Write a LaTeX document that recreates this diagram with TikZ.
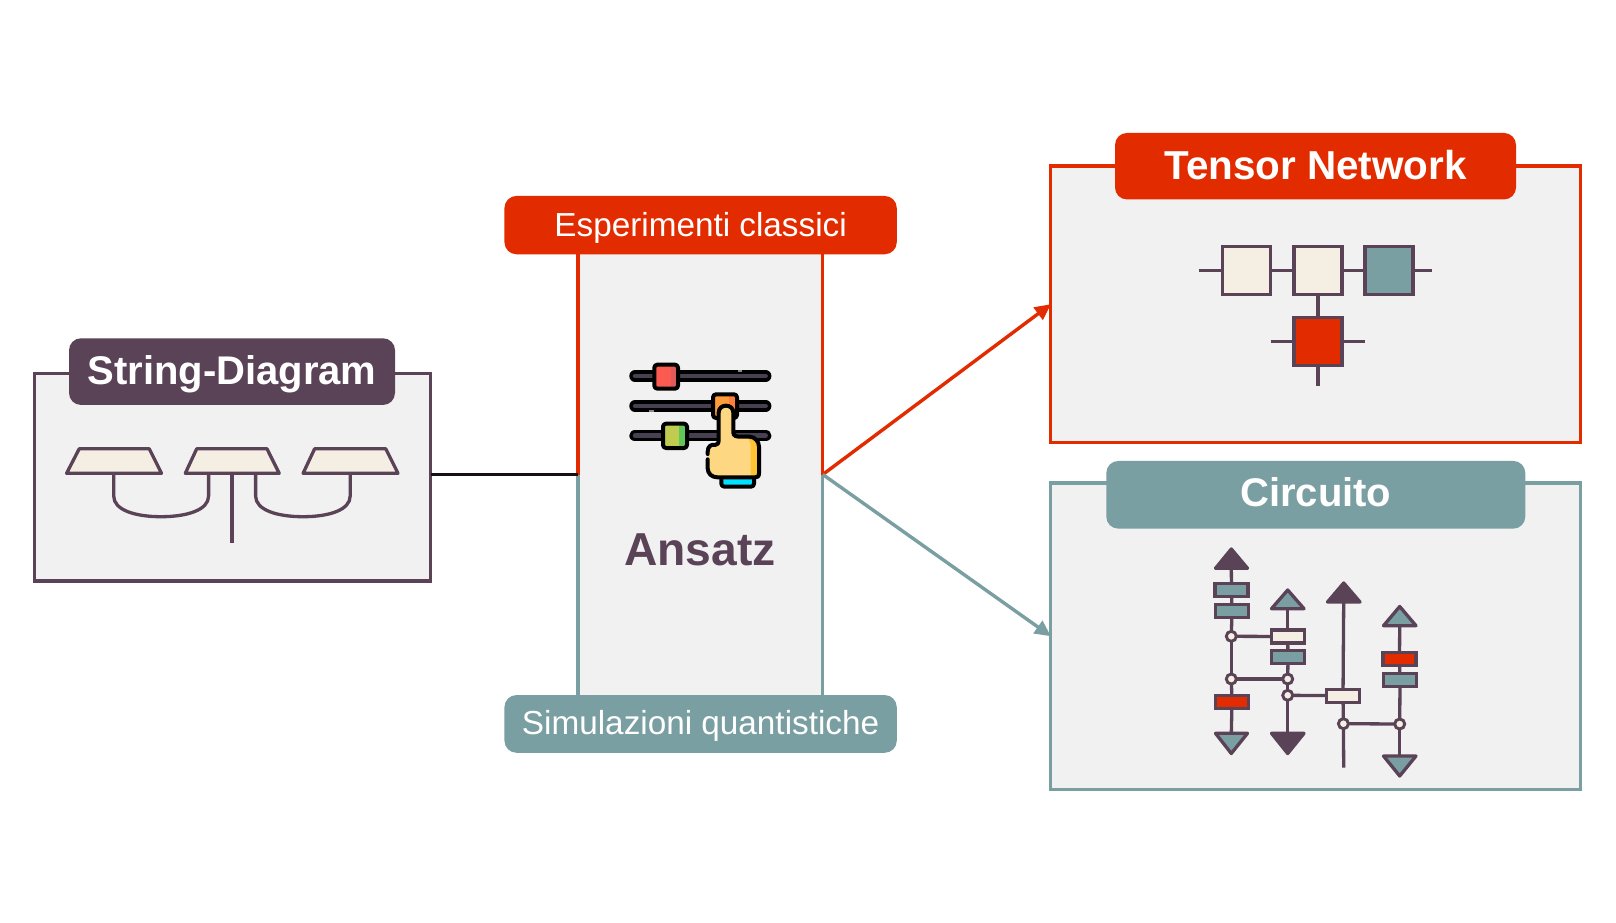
\documentclass[tikz,border=0pt]{standalone}
\usepackage{fontspec}
\setmainfont{Liberation Sans}
\usetikzlibrary{arrows.meta,calc}
\definecolor{plum}{HTML}{5A4257}
\definecolor{redc}{HTML}{E22C00}
\definecolor{teal}{HTML}{7A9FA2}
\definecolor{cream}{HTML}{F4EEE3}
\definecolor{panel}{HTML}{F1F1F1}
\definecolor{track}{HTML}{464050}
\definecolor{hred}{HTML}{FB5A50}
\definecolor{hredd}{HTML}{E05A5A}
\definecolor{horg}{HTML}{FF9C3A}
\definecolor{horgd}{HTML}{FF7F3A}
\definecolor{hgrn}{HTML}{C0CC50}
\definecolor{hgrnd}{HTML}{60C858}
\definecolor{cuff}{HTML}{00E0FF}
\definecolor{skin}{HTML}{FDD782}
\definecolor{skind}{HTML}{FFC233}
\tikzset{
  panelbox/.style={draw=#1,fill=panel,line width=3.1pt,inner sep=0pt,outer sep=0pt,sharp corners},
  titlebox/.style={fill=#1,rounded corners=12pt,inner sep=0pt,outer sep=0pt,text=white},
  bigtitle/.style={font=\bfseries\fontsize{40}{48}\selectfont},
  subtitle/.style={font=\fontsize{33.3}{40}\selectfont,text depth=2pt},
  wire/.style={draw=plum,line width=3.3pt},
  sq/.style={draw=plum,line width=3.3pt,minimum size=48pt,inner sep=0pt,outer sep=0pt,fill=#1},
  gate/.style={draw=plum,line width=3.3pt,minimum width=33pt,minimum height=13pt,inner sep=0pt,outer sep=0pt,fill=#1},
  dot/.style={circle,draw=plum,line width=2.9pt,minimum size=10pt,inner sep=0pt,outer sep=0pt,fill=cream},
  tri/.style={draw=plum,line width=3.3pt,line join=round,fill=#1},
  trap/.style={draw=plum,fill=cream,line width=3.3pt,line join=round},
  ink/.style={draw=black,line width=4pt,line join=round,line cap=round},
}
\begin{document}
\begin{tikzpicture}[x=1pt,y=-1pt]
\useasboundingbox (0,0) rectangle (1616,923);
\fill[white] (0,0) rectangle (1616,923);
% panels
\node[panelbox=plum,minimum width=396pt,minimum height=207.5pt] (sd) at (232.8,477.2) {};
\node[fill=panel,inner sep=0pt,outer sep=0pt,minimum width=244.8pt,minimum height=441pt] (an) at (700.4,474.5) {};
\node[panelbox=redc,minimum width=529.4pt,minimum height=276.5pt] (tn) at (1315.6,304.2) {};
\node[panelbox=teal,minimum width=529.4pt,minimum height=306.5pt] (ci) at (1315.6,636.2) {};
% ansatz sides
\coordinate (anNW) at (an.north west);
\coordinate (anNE) at (an.north east);
\coordinate (anSW) at (an.south west);
\coordinate (anSE) at (an.south east);
\draw[redc,line width=3.1pt] (anNW) -- (an.west);
\draw[redc,line width=3.1pt] (anNE) -- (an.east);
\draw[teal,line width=3.1pt] (anSW) -- (an.west);
\draw[teal,line width=3.1pt] (anSE) -- (an.east);
% connectors
\draw[draw=black!75!plum,line width=3.4pt] (sd.east |- an.west) -- (an.west);
\draw[redc,line width=3.4pt,-{Triangle[length=16pt,width=15pt]}] (an.east) -- (tn.west);
\draw[teal,line width=3.4pt,-{Triangle[length=16pt,width=15pt]}] (an.east) -- (ci.west);
% titles
\node[titlebox=plum,minimum width=326pt,minimum height=66.7pt,bigtitle,text depth=2.5pt] (sdt) at (232,371.6) {String-Diagram};
\node[titlebox=redc,minimum width=392.3pt,minimum height=58.3pt,subtitle] (ant) at (700.6,225.1) {Esperimenti classici};
\node[titlebox=teal,minimum width=392.3pt,minimum height=57.7pt,subtitle] (anb) at (700.6,723.9) {Simulazioni quantistiche};
\node[titlebox=redc,minimum width=401pt,minimum height=66.5pt,bigtitle,font=\bfseries\fontsize{40.4}{48}\selectfont,text depth=3.5pt] (tnt) at (1315.5,166.2) {Tensor Network};
\node[titlebox=teal,minimum width=419pt,minimum height=67.7pt,bigtitle,text depth=5pt] (cit) at (1315.8,494.8) {Circuito};
\node[font=\bfseries\fontsize{46.2}{55}\selectfont,text=plum,anchor=base,inner sep=0pt] (anl) at (700,565) {Ansatz};
% string diagram
\draw[trap] (79.2,448.8) -- (149.3,448.8) -- (161.5,473.3) -- (66.6,473.3) -- cycle;
\draw[trap] (196.7,448.8) -- (267,448.8) -- (279.2,473.3) -- (185.3,473.3) -- cycle;
\draw[trap] (314.6,448.8) -- (385.8,448.8) -- (398,473.3) -- (303.1,473.3) -- cycle;
\coordinate (stemTop) at (231.5,473.3);
\coordinate (stemEnd) at (231.5,543.3);
\draw[wire,line width=4pt] (stemTop) -- (stemEnd);
\draw[wire] (113.7,473.3) -- (113.7,496) .. controls (113.7,510) and (135,516.7) .. (161,516.7) .. controls (187,516.7) and (208.6,510) .. (208.6,496) -- (208.6,473.3);
\draw[wire] (350.2,473.3) -- (350.2,496) .. controls (350.2,510) and (329,516.7) .. (303,516.7) .. controls (277,516.7) and (255.6,510) .. (255.6,496) -- (255.6,473.3);
% tensor network
\node[sq=cream] (s1) at (1246.7,270.7) {};
\node[sq=cream] (s2) at (1318,270.7) {};
\node[sq=teal] (s3) at (1389,270.7) {};
\node[sq=redc] (s4) at (1318,341.7) {};
\coordinate (e1) at (1199.3,270.7);
\coordinate (e2) at (1431.7,270.7);
\coordinate (e3) at (1270.7,341.7);
\coordinate (e4) at (1365,341.7);
\coordinate (e5) at (1318,385.7);
\draw[wire] (e1) -- (s1);
\draw[wire] (s1) -- (s2);
\draw[wire] (s2) -- (s3);
\draw[wire] (s3) -- (e2);
\draw[wire] (s2) -- (s4);
\draw[wire] (e3) -- (s4);
\draw[wire] (s4) -- (e4);
\draw[wire] (s4) -- (e5);
% circuit gates
\node[gate=teal] (g1) at (1231.5,590.2) {};
\node[gate=teal] (g2) at (1232,611.2) {};
\node[dot] (d1) at (1231.3,636.3) {};
\node[dot] (d2) at (1231.3,679) {};
\node[gate=redc] (g3) at (1232,702.2) {};
\node[gate=cream] (g4) at (1287.7,636.5) {};
\node[gate=teal] (g5) at (1288,657.3) {};
\node[dot] (d3) at (1287.7,679) {};
\node[dot] (d4) at (1287.7,695.3) {};
\node[gate=cream] (g6) at (1343,695.7) {};
\node[dot] (d5) at (1343.4,723.7) {};
\node[gate=redc] (g7) at (1399.5,659.3) {};
\node[gate=teal] (g8) at (1400,680.3) {};
\node[dot] (d6) at (1399.7,724) {};
% triangles
\draw[tri=plum] (1231.3,549) -- (1215.5,568.3) -- (1247.5,568.3) -- cycle;
\draw[tri=teal] (1287.7,590) -- (1271.5,608.7) -- (1304,608.7) -- cycle;
\draw[tri=plum] (1343.7,583) -- (1327.5,602) -- (1360,602) -- cycle;
\draw[tri=teal] (1399.7,606.5) -- (1383.5,625.7) -- (1416,625.7) -- cycle;
\draw[tri=teal] (1231.3,753.5) -- (1215.5,733.3) -- (1247.5,733.3) -- cycle;
\draw[tri=plum] (1287.7,753.5) -- (1271.5,733.3) -- (1304,733.3) -- cycle;
\draw[tri=teal] (1399.7,776) -- (1383.5,756) -- (1416,756) -- cycle;
\coordinate (a1) at (1231.3,568.3);
\coordinate (b1) at (1231.3,733.3);
\coordinate (a2) at (1287.7,608.7);
\coordinate (b2) at (1287.7,733.3);
\coordinate (a3) at (1343.7,602);
\coordinate (b3) at (1343.7,767.7);
\coordinate (a4) at (1399.7,625.7);
\coordinate (b4) at (1399.7,756);
\draw[wire] (a1) -- (g1);
\draw[wire] (g1) -- (g2);
\draw[wire] (g2) -- (d1);
\draw[wire] (d1) -- (d2);
\draw[wire] (d2) -- (g3);
\draw[wire] (g3) -- (b1);
\draw[wire] (a2) -- (g4);
\draw[wire] (g4) -- (g5);
\draw[wire] (g5) -- (d3);
\draw[wire] (d3) -- (d4);
\draw[wire] (d4) -- (b2);
\draw[wire] (a3) -- (g6);
\draw[wire] (g6) -- (d5);
\draw[wire] (d5) -- (b3);
\draw[wire] (a4) -- (g7);
\draw[wire] (g7) -- (g8);
\draw[wire] (g8) -- (d6);
\draw[wire] (d6) -- (b4);
\draw[wire] (d1) -- (g4);
\draw[wire] (d2) -- (d3);
\draw[wire] (d4) -- (g6);
\draw[wire] (d5) -- (d6);
% icon
\begin{scope}[shift={(600,340)},x=0.33333pt,y=-0.33333pt]
  \foreach \yy in {108,198,287}{
    \draw[black,line width=11.5pt,line cap=round] (105,\yy) -- (497,\yy);
    \draw[track,line width=4.5pt,line cap=round] (105,\yy) -- (497,\yy);
  }
  \draw[track!60!panel,line width=2pt] (414,93) -- (426,93);
  \draw[track!60!panel,line width=2pt] (147,213) -- (161,213);
  % red handle
  \fill[hred] (163,74) rectangle (234,146);
  \fill[hredd] (212,74) rectangle (234,146);
  \draw[ink,rounded corners=3pt] (163,74) rectangle (234,146);
  % orange handle
  \fill[horg] (339,163) rectangle (411,234);
  \fill[horgd] (388,163) rectangle (411,234);
  \draw[ink,rounded corners=3pt] (339,163) rectangle (411,234);
  % green handle
  \fill[hgrn] (189,251) rectangle (261,324);
  \fill[hgrnd] (237,251) rectangle (261,324);
  \draw[ink,rounded corners=3pt] (189,251) rectangle (261,324);
  % cuff
  \fill[cuff] (364,410) rectangle (462,440);
  \draw[ink,rounded corners=3pt] (364,412) -- (364,440) -- (462,440) -- (462,412);
  % hand
  \fill[skin] (356,218) .. controls (356,190) and (400,190) .. (400,218) -- (400,278) .. controls (400,288) and (410,290) .. (420,290) -- (448,290) .. controls (465,290) and (477,305) .. (477,320) -- (477,400) .. controls (477,410) and (472,412) .. (465,412) -- (352,412) .. controls (335,412) and (323,400) .. (323,385) -- (323,335) .. controls (323,318) and (335,312) .. (345,315) .. controls (352,315) and (356,310) .. (356,300) -- cycle;
  \fill[skind] (448,290) .. controls (465,290) and (477,305) .. (477,320) -- (477,400) .. controls (477,410) and (472,412) .. (465,412) -- (452,412) -- (452,320) .. controls (452,305) and (445,292) .. (435,290) -- cycle;
  \draw[ink] (323,358) -- (323,385) .. controls (323,400) and (335,412) .. (352,412) -- (465,412) .. controls (472,412) and (477,410) .. (477,400) -- (477,320) .. controls (477,305) and (465,290) .. (448,290) -- (420,290) .. controls (410,290) and (400,288) .. (400,278) -- (400,218) .. controls (400,190) and (356,190) .. (356,218) -- (356,300) .. controls (356,310) and (352,315) .. (345,315) .. controls (335,312) and (323,318) .. (323,335) -- (323,342);
\end{scope}
\end{tikzpicture}
\end{document}
